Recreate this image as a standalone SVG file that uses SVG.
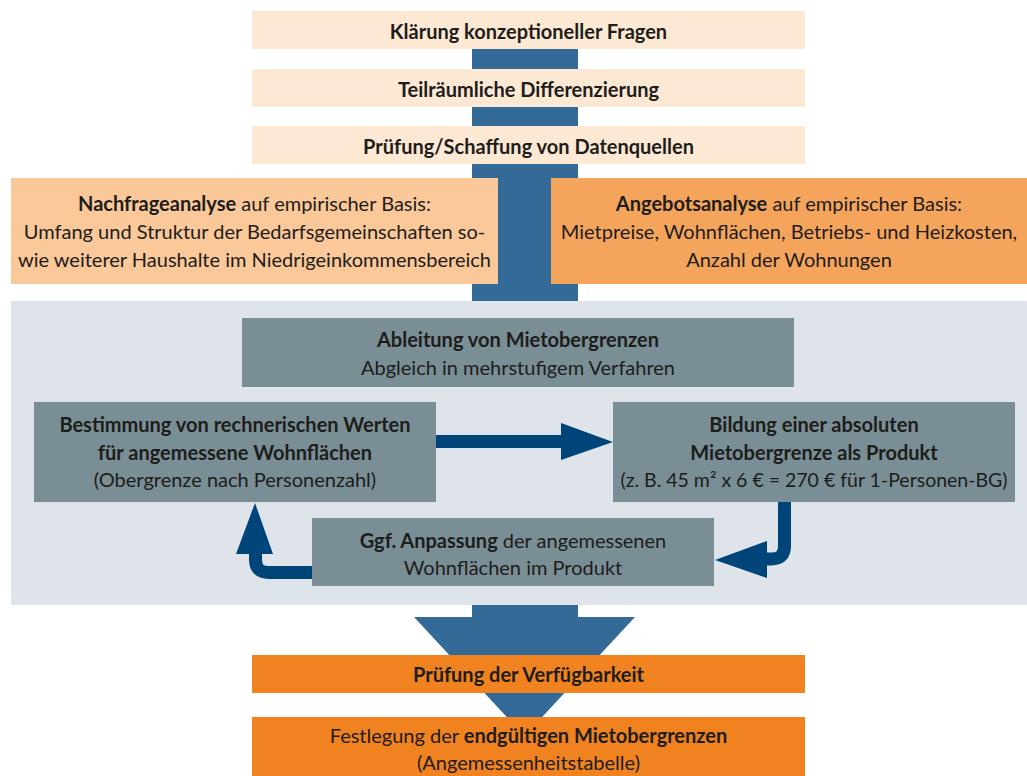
<svg xmlns="http://www.w3.org/2000/svg" width="1027" height="776" viewBox="0 0 1027 776">
<style>
text{font-family:Lato,"Liberation Sans",sans-serif;font-size:20px;fill:#1d1d1b;text-anchor:middle}
.b{font-weight:bold}
.sm{font-size:19.5px}
.peach{fill:#fde8d4}
.gbox{fill:#7a8e96}
.flow{fill:#336a98}
.arr{fill:#00457a}
.ship{fill:none;stroke:#00457a;stroke-width:13}
.org{fill:#f0821f}
</style>
<rect width="1027" height="776" fill="#ffffff"/>
<g id="trunk">
<rect class="flow" x="472" y="49" width="106" height="252"/>
<rect class="flow" x="472" y="605" width="106" height="12"/>
<polygon class="flow" points="414,617 635,617 524.5,736"/>
</g>
<rect id="panel" x="11" y="301" width="1016" height="304" fill="#dfe3ea"/>
<g id="n1"><rect class="peach" x="252" y="11" width="553" height="38"/><text class="b" x="528.5" y="38.5">Klärung konzeptioneller Fragen</text></g>
<g id="n2"><rect class="peach" x="252" y="69" width="553" height="38"/><text class="b" x="528.5" y="96.5">Teilräumliche Differenzierung</text></g>
<g id="n3"><rect class="peach" x="252" y="126" width="553" height="38"/><text class="b" x="528.5" y="153.5">Prüfung/Schaffung von Datenquellen</text></g>
<g id="n4"><rect x="11" y="178" width="487" height="106" fill="#fbc89a"/>
<text x="254.5" y="211"><tspan class="b">Nachfrageanalyse</tspan> auf empirischer Basis:</text>
<text x="254.5" y="239">Umfang und Struktur der Bedarfsgemeinschaften so-</text>
<text x="254.5" y="267">wie weiterer Haushalte im Niedrigeinkommensbereich</text></g>
<g id="n5"><rect x="551" y="178" width="476" height="106" fill="#f5a45c"/>
<text x="789" y="211"><tspan class="b">Angebotsanalyse</tspan> auf empirischer Basis:</text>
<text x="789" y="239">Mietpreise, Wohnflächen, Betriebs- und Heizkosten,</text>
<text x="789" y="267">Anzahl der Wohnungen</text></g>
<g id="n6"><rect class="gbox" x="242" y="318" width="552" height="69"/>
<text class="b" x="518" y="347">Ableitung von Mietobergrenzen</text>
<text x="518" y="375">Abgleich in mehrstufigem Verfahren</text></g>
<g id="n7"><rect class="gbox" x="34" y="402" width="402" height="100"/>
<text class="b" x="235" y="432">Bestimmung von rechnerischen Werten</text>
<text class="b" x="235" y="459.5">für angemessene Wohnflächen</text>
<text x="235" y="487">(Obergrenze nach Personenzahl)</text></g>
<g id="n8"><rect class="gbox" x="613" y="402" width="402" height="100"/>
<text class="b" x="814" y="432">Bildung einer absoluten</text>
<text class="b" x="814" y="459.5">Mietobergrenze als Produkt</text>
<text class="sm" x="814" y="487">(z. B. 45 m² x 6 € = 270 € für 1-Personen-BG)</text></g>
<g id="n9"><rect class="gbox" x="312" y="518" width="402" height="68"/>
<text x="513" y="548"><tspan class="b">Ggf. Anpassung</tspan> der angemessenen</text>
<text x="513" y="575">Wohnflächen im Produkt</text></g>
<g id="connectors">
<rect class="arr" x="436" y="435" width="127" height="13"/>
<polygon class="arr" points="561,423 613,442 561,460"/>
<path class="ship" d="M784.5,502 V546 Q784.5,559 771.5,559 H765"/>
<polygon class="arr" points="767,541 767,578 715,560"/>
<path class="ship" d="M312,572.5 H268.5 Q255.5,572.5 255.5,559.5 V552"/>
<polygon class="arr" points="236,554 273,554 255,503"/>
</g>
<g id="n10"><rect class="org" x="252" y="655" width="553" height="38"/><text class="b" x="528.5" y="681.5">Prüfung der Verfügbarkeit</text></g>
<g id="n11"><rect class="org" x="252" y="717" width="553" height="59"/>
<text x="528.5" y="742.5">Festlegung der <tspan class="b">endgültigen Mietobergrenzen</tspan></text>
<text x="528.5" y="770">(Angemessenheitstabelle)</text></g>
</svg>
